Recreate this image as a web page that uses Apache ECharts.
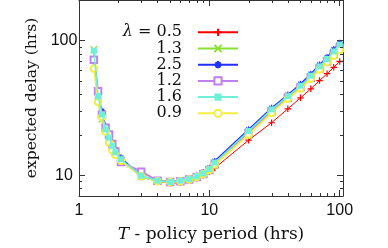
<!DOCTYPE html>
<html><head><meta charset="utf-8">
<script src="https://cdn.jsdelivr.net/npm/echarts@6/dist/echarts.min.js"></script>
<style>html,body{margin:0;padding:0;background:#fff}#c{width:388px;height:248px}</style>
</head><body><div id="c"></div>
<script>
const T = [1.3,1.4,1.5,1.6,1.7,1.8,1.9,2.1,3,4,5,6,7,8,9,10,11,20,30,40,50,60,70,80,90,100];
const names = ['λ = 0.5','1.3','2.5','1.2','1.6','0.9'];
const d05 = [74,37,26.5,21,18.5,16.2,14.6,13,9.9,9.0,8.7,8.8,9.1,9.5,10.0,10.6,11.3,18.2,24.5,31.1,37.5,43.8,50.4,56.7,63.2,70];
const d13 = [86,36,26,21.5,18.8,16.3,14.6,13,9.8,9.1,8.9,9.0,9.3,9.8,10.3,11.0,12.3,21,30.3,38,45.5,54,63.5,72,81.5,91];
const d25 = [72,36,30,23,20,17.5,15.5,13.5,9.7,9.1,9.0,9.1,9.4,9.9,10.5,11.3,12.7,21.8,31.5,39.5,47.5,56.5,66,75,86,96];
const d12 = [72,42,28,22.5,20,17,15,12.5,10.6,9.1,8.9,9.0,9.3,9.7,10.2,10.9,12.1,20.6,29.8,37.5,45,53,62,70,79,88];
const d16 = [84,38.6,28.2,21.9,19.0,16.5,14.8,13.1,9.9,9.1,8.9,9.1,9.35,9.8,10.3,11.1,12.4,21.3,30.8,38.6,46.2,54.8,64.3,72.9,83,93];
const d09 = [62,35,27,21,17.5,15.3,14.2,12.8,9.8,9.0,8.9,9.0,9.3,9.7,10.2,10.9,12.0,20,29,37,44,52,61,69,77,85];
const xMinor = [2,3,4,5,6,7,8,9,20,30,40,50,60,70,80,90];
const yMinor = [8,9,20,30,40,50,60,70,80,90];

const colors = ['#ff0000','#88e030','#2030ff','#c080f0','#70f0d8','#f0f040'];
const widths = [1,2,1.5,2,1.5,1.8];
const zs = [2,3,4,5,7,6];
const PLUS='path://M5,0V10M0,5H10', CROSS='path://M0,0L10,10M10,0L0,10',
      STAR='path://M5,0V10M0,5H10M1.5,1.5L8.5,8.5M8.5,1.5L1.5,8.5';
const syms = [PLUS, CROSS, STAR, 'emptyRect', 'rect', 'emptyCircle'];
const datas = [d05,d13,d25,d12,d16,d09];

const chart = echarts.init(document.getElementById('c'), null, {renderer:'canvas'});
const serif = 'DejaVu Serif';
const series = datas.map((d,i)=>({
  type:'line', name:names[i], data:T.map((t,j)=>[t,d[j]]),
  symbol:syms[i], symbolSize:(i===4?6:6.5), showAllSymbol:true,
  lineStyle:{color:colors[i], width:widths[i]},
  itemStyle:(i<3)?{color:'rgba(0,0,0,0)', borderColor:colors[i], borderWidth:1.2}
                 :(i===4?{color:colors[i]}:{color:colors[i], borderColor:colors[i], borderWidth:0.9}),
  z: zs[i], animation:false
}));
function tickSeries(vals, isX){
  return {type:'custom', coordinateSystem:'cartesian2d', silent:true, animation:false, z:20,
    data: vals.map(v=> isX ? [v,10] : [1,v]),
    renderItem:(params, api)=>{
      const cs = params.coordSys;
      const p = api.coord([api.value(0), api.value(1)]);
      const st = {stroke:'#333', lineWidth:1};
      if (isX) {
        const x = Math.round(p[0])+0.5;
        return {type:'group', children:[
          {type:'line', shape:{x1:x,y1:cs.y+cs.height,x2:x,y2:cs.y+cs.height-3}, style:st},
          {type:'line', shape:{x1:x,y1:cs.y,x2:x,y2:cs.y+3}, style:st}]};
      } else {
        const y = Math.round(p[1])+0.5;
        return {type:'group', children:[
          {type:'line', shape:{x1:cs.x,y1:y,x2:cs.x+3,y2:y}, style:st},
          {type:'line', shape:{x1:cs.x+cs.width,y1:y,x2:cs.x+cs.width-3,y2:y}, style:st}]};
      }
    }};
}
series.push(tickSeries(xMinor,true), tickSeries(yMinor,false));

const legendTops = [32.3,48.5,64.7,80.9,97.1,113.3];
const legends = names.map((n,i)=>({
  data:[n], orient:'vertical', right:149, top:legendTops[i]-8, padding:0,
  align:'right', itemWidth:40, itemHeight:9, selectedMode:false,
  formatter: name => name.replace('λ','{i|λ}'),
  textStyle:{fontFamily:serif, fontSize:16, color:'#111', lineHeight:16, padding:[0,11,0,0],
    rich:{i:{fontFamily:serif, fontStyle:'italic', fontSize:16, color:'#111', lineHeight:16}}}
}));

const axLine = {show:true, lineStyle:{color:'#333', width:1}};
chart.setOption({
  backgroundColor:'#fff', animation:false,
  grid:{left:79, top:-1, width:264, height:198, containLabel:false},
  legend: legends,
  xAxis:[{type:'log', min:1, max:106, logBase:10, position:'bottom',
    axisLine:axLine, splitLine:{show:false},
    axisTick:{inside:true, length:6, lineStyle:{color:'#333'}},
    axisLabel:{showMaxLabel:false, margin:7, fontFamily:'Liberation Sans', fontSize:16, color:'#111'},
    name:'{i|T} - policy period (hrs)', nameLocation:'middle', nameGap:30,
    nameTextStyle:{fontFamily:serif, fontSize:17, color:'#111',
      rich:{i:{fontFamily:serif, fontStyle:'italic', fontSize:17, color:'#111'}}}},
    {type:'log', min:1, max:106, position:'top', axisLine:axLine, splitLine:{show:false},
    axisTick:{inside:true, length:6, lineStyle:{color:'#333'}}, axisLabel:{show:false}}],
  yAxis:[{type:'log', min:7, max:200, logBase:10, position:'left',
    axisLine:axLine, splitLine:{show:false},
    axisTick:{inside:true, length:6, lineStyle:{color:'#333'}},
    axisLabel:{showMinLabel:false, showMaxLabel:false, margin:15, align:'center',
      fontFamily:'Liberation Sans', fontSize:16, color:'#111'},
    name:'expected delay (hrs)', nameLocation:'middle', nameGap:38,
    nameTextStyle:{fontFamily:serif, fontSize:15.5, color:'#111'}},
    {type:'log', min:7, max:200, position:'right', axisLine:axLine, splitLine:{show:false},
    axisTick:{inside:true, length:6, lineStyle:{color:'#333'}}, axisLabel:{show:false}}],
  series: series
});
</script></body></html>
